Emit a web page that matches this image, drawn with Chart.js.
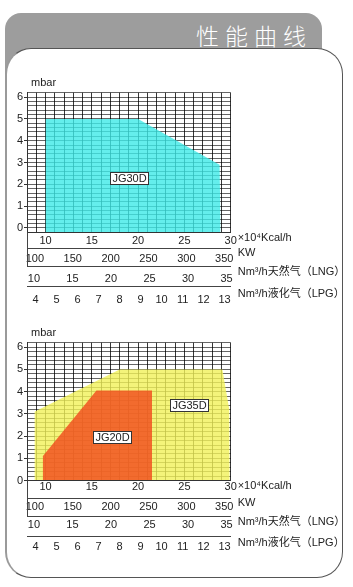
<!DOCTYPE html>
<html>
<head>
<meta charset="utf-8">
<script src="https://cdn.jsdelivr.net/npm/chart.js@4.4.1/dist/chart.umd.min.js"></script>
<style>
  html, body { margin: 0; padding: 0; background: #fff; }
  body { width: 353px; height: 587px; position: relative; overflow: hidden; }
  #tab { position: absolute; left: 5px; top: 13px; width: 317px; height: 70px; background: #9d9d9d; border-radius: 16px 16px 0 0; }
  #title { position: absolute; left: 5px; top: 21px; width: 307px; height: 28px; line-height: 28px; text-align: right;
           color: #fff; font-size: 23px; letter-spacing: 6px; font-family: "Noto Sans CJK SC", sans-serif; font-weight: 300; }
  #panel { position: absolute; left: 5px; top: 48px; width: 335px; height: 528px; background: #fff;
           border: 1px solid #555; border-left: 2px solid #9a9a9a; border-radius: 26px; }
  canvas { position: absolute; left: 0; }
  #c1 { top: 70px; }
  #c2 { top: 318px; }
</style>
</head>
<body>
<div id="tab"></div>
<div id="title">性能曲线</div>
<div id="panel"></div>
<canvas id="c1" width="345" height="245"></canvas>
<canvas id="c2" width="345" height="245"></canvas>
<script>
// working ranges, x in 10^4 kcal/h, y in mbar
const jg30dX = [10, 20, 28.8, 28.9];
const jg30dY = [5, 5, 2.9, 0];
const jg35dX = [8.8, 18, 29.1, 29.85, 29.9];
const jg35dY = [3.1, 5, 5, 3.2, 0];
const jg20dX = [9.7, 15.5, 21.5];
const jg20dY = [1.1, 4.05, 4.05];

// tick labels
const kcalTicks = [10, 15, 20, 25, 30];
const kwTicks = [100, 150, 200, 250, 300, 350];
const lngTicks = [10, 15, 20, 25, 30, 35];
const lpgTicks = [4, 5, 6, 7, 8, 9, 10, 11, 12, 13];
const mbarTicks = [0, 1, 2, 3, 4, 5, 6];
const unitNames = ['×10⁴Kcal/h', 'KW', 'Nm³/h天然气（LNG）', 'Nm³/h液化气（LPG）'];

// model name boxes
const topModels = ['JG30D'];
const topModelX = [19.07];
const topModelY = [2.31];
const bottomModels = ['JG20D', 'JG35D'];
const bottomModelX = [17.2, 25.5];
const bottomModelY = [1.97, 3.4];

const FONT = '"Liberation Sans", "Noto Sans CJK SC", sans-serif';
Chart.defaults.font.family = FONT;
Chart.defaults.font.size = 11;
Chart.defaults.color = '#222';

function points(xs, ys) {
    return xs.map((x, i) => ({x: x, y: ys[i]}));
}

// translucent fill so the grid shows through it
function area(xs, ys, colour) {
    return {
        data: points(xs, ys), xAxisID: 'x', yAxisID: 'y',
        backgroundColor: colour, borderWidth: 0, pointRadius: 0, fill: 'start', tension: 0
    };
}

// extra bottom axis drawn from its own list of tick values
function subAxis(ticks, min, max, weight, height, pad) {
    return {
        type: 'linear', axis: 'x', position: 'bottom', min: min, max: max, weight: weight,
        afterBuildTicks: s => { s.ticks = ticks.map(v => ({value: v})); },
        afterFit: s => { s.height = height; },
        grid: {drawOnChartArea: false, drawTicks: false},
        border: {color: '#444'},
        ticks: {padding: pad, autoSkip: false, maxRotation: 0, minRotation: 0}
    };
}

const extras = {
    id: 'extras',
    afterDraw(chart, args, opts) {
        const ctx = chart.ctx;
        const a = chart.chartArea;
        const xs = chart.scales.x, ys = chart.scales.y;
        ctx.save();
        ctx.font = '11px ' + FONT;
        ctx.fillStyle = '#222';
        ctx.textBaseline = 'middle';
        ctx.textAlign = 'left';
        ctx.fillText('mbar', a.left + 4, a.top - 10);

        // left edge carried down through the first rows
        ctx.strokeStyle = '#444';
        ctx.lineWidth = 1;
        ctx.beginPath();
        ctx.moveTo(Math.round(a.left) + 0.5, a.bottom);
        ctx.lineTo(Math.round(a.left) + 0.5, chart.scales.lng.top);
        ctx.stroke();

        ['x', 'kw', 'lng', 'lpg'].forEach((id, i) => {
            ctx.fillText(unitNames[i], a.right + 7, chart.scales[id].top + opts.unitDy[i]);
        });

        opts.names.forEach((name, i) => {
            const px = xs.getPixelForValue(opts.xs[i]);
            const py = ys.getPixelForValue(opts.ys[i]);
            const w = Math.round(ctx.measureText(name).width + 4);
            const h = 12;
            const l = Math.round(px - w / 2), t = Math.round(py - h / 2);
            ctx.fillStyle = '#fff';
            ctx.fillRect(l, t, w, h);
            ctx.strokeStyle = '#333';
            ctx.strokeRect(l + 0.5, t + 0.5, w, h);
            ctx.fillStyle = '#222';
            ctx.textAlign = 'center';
            ctx.fillText(name, l + w / 2 + 0.5, t + h / 2 + 1);
        });
        ctx.restore();
    }
};

function makeChart(id, datasets, yMin, lay, names, mx, my) {
    return new Chart(document.getElementById(id), {
        type: 'line',
        data: {datasets: datasets},
        plugins: [extras],
        options: {
            responsive: false,
            animation: false,
            layout: {padding: {top: lay.top, bottom: lay.bottom, left: 0, right: 114.3}},
            plugins: {
                legend: {display: false},
                tooltip: {enabled: false},
                extras: {names: names, xs: mx, ys: my, unitDy: [5.7, 4.5, 5.5, 6.8]}
            },
            scales: {
                x: {
                    type: 'linear', position: 'bottom', min: 8, max: 30, weight: 0,
                    afterFit: s => { s.height = lay.h[0]; },
                    grid: {color: 'rgba(0,0,0,0.78)', drawTicks: false},
                    border: {color: '#333', z: 2},
                    ticks: {
                        stepSize: 1, autoSkip: false, maxRotation: 0, minRotation: 0, padding: lay.pad[0],
                        callback: v => kcalTicks.includes(v) ? v : ''
                    }
                },
                kw: subAxis(kwTicks, 89.6, 358.6, 1, lay.h[1], lay.pad[1]),
                lng: subAxis(lngTicks, 9.1, 35.54, 2, lay.h[2], lay.pad[2]),
                lpg: subAxis(lpgTicks, 3.59, 13.29, 3, lay.h[3], lay.pad[3]),
                y: {
                    type: 'linear', position: 'left', min: yMin, max: 6.2,
                    afterFit: s => { s.width = 27; },
                    grid: {
                        color: 'rgba(0,0,0,0.6)', tickLength: 3,
                        tickColor: c => mbarTicks.includes(Math.round(c.tick.value * 10) / 10) ? '#333' : 'rgba(0,0,0,0)'
                    },
                    border: {color: '#333', z: 2},
                    ticks: {
                        stepSize: 0.2, autoSkip: false, padding: 1,
                        callback: v => mbarTicks.includes(Math.round(v * 10) / 10) ? Math.round(v) : ''
                    }
                }
            }
        }
    });
}

makeChart('c1', [area(jg30dX, jg30dY, 'rgba(61,234,231,0.8)')], -0.2,
    {top: 22.7, bottom: 8.3, h: [16, 18.4, 20, 20], pad: [1.8, 4.4, 6, 6.7]},
    topModels, topModelX, topModelY);

makeChart('c2', [area(jg20dX, jg20dY, 'rgba(241,72,27,0.8)'), area(jg35dX, jg35dY, 'rgba(241,241,89,0.8)')], 0,
    {top: 24.7, bottom: 7, h: [17.6, 18.4, 19.3, 20], pad: [0, 1.8, 1.7, 4.7]},
    bottomModels, bottomModelX, bottomModelY);
</script>
</body>
</html>
